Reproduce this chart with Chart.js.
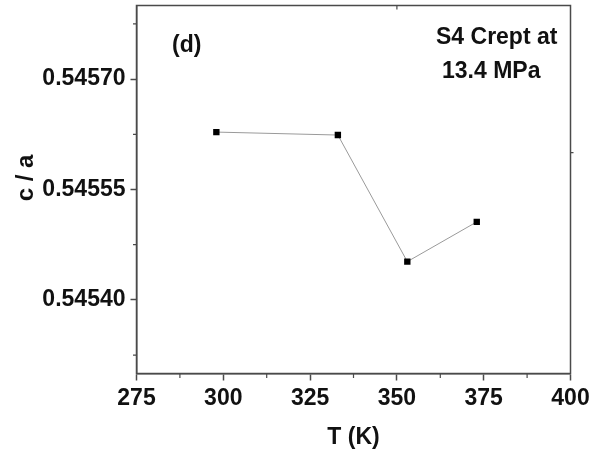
<!DOCTYPE html>
<html>
<head>
<meta charset="utf-8">
<script src="https://cdn.jsdelivr.net/npm/chart.js@4.4.1/dist/chart.umd.min.js"></script>
<style>
  html, body { margin: 0; padding: 0; background: #fff; }
  #wrap { width: 590px; height: 454px; }
</style>
</head>
<body>
<div id="wrap"><canvas id="c" width="590" height="454"></canvas></div>
<script>
// Lattice ratio c/a versus temperature for sample S4 (crept at 13.4 MPa)
const temperatures = [298, 333, 353, 373];
const caRatio = [0.545628, 0.545624, 0.545452, 0.545506];

const xMajorTicks = [275, 300, 325, 350, 375, 400];
const xMinorTicks = [287.5, 312.5, 337.5, 362.5, 387.5];
const yMajorTicks = [0.54540, 0.54555, 0.54570];
const yMinorTicks = [0.545325, 0.545475, 0.545625, 0.545775];

const FONT = '"Liberation Sans", Arial, sans-serif';
const AXIS_COLOR = '#4a4a4a';
const TEXT_COLOR = '#111';

const points = temperatures.map((t, i) => ({ x: t, y: caRatio[i] }));

// keep the plot frame where the layout padding puts it
function clearLabelPadding(scale) {
  scale.paddingTop = 0;
  scale.paddingBottom = 0;
  scale.paddingLeft = 0;
  scale.paddingRight = 0;
}

// Frame, minor ticks and text annotations
const decorations = {
  id: 'decorations',
  afterDraw(chart) {
    const ctx = chart.ctx;
    const a = chart.chartArea;
    const xs = chart.scales.x, ys = chart.scales.y;
    ctx.save();
    ctx.strokeStyle = AXIS_COLOR;
    ctx.lineWidth = 1.5;
    ctx.strokeRect(a.left, a.top, a.right - a.left, a.bottom - a.top);

    ctx.lineWidth = 1.2;
    ctx.beginPath();
    xMinorTicks.forEach(v => {
      const px = xs.getPixelForValue(v);
      ctx.moveTo(px, a.bottom);
      ctx.lineTo(px, a.bottom + 4.5);
    });
    yMinorTicks.forEach(v => {
      const py = ys.getPixelForValue(v);
      ctx.moveTo(a.left, py);
      ctx.lineTo(a.left - 3.5, py);
    });
    // single marks on the top and right frame
    const tx = xs.getPixelForValue(350);
    ctx.moveTo(tx, a.top);
    ctx.lineTo(tx, a.top + 4);
    const ry = ys.getPixelForValue(0.54560);
    ctx.moveTo(a.right, ry);
    ctx.lineTo(a.right + 3, ry);
    ctx.stroke();

    ctx.fillStyle = TEXT_COLOR;
    ctx.font = 'bold 23px ' + FONT;
    ctx.textBaseline = 'alphabetic';
    ctx.textAlign = 'left';
    ctx.fillText('(d)', 172, 52);
    ctx.fillText('S4 Crept at', 436, 44);
    ctx.fillText('13.4 MPa', 442, 78);

    ctx.textAlign = 'center';
    ctx.fillText('T (K)', 353.5, 444);

    ctx.translate(32.5, 178);
    ctx.rotate(-Math.PI / 2);
    ctx.font = 'bold 24px ' + FONT;
    ctx.fillText('c / a', 0, 0);
    ctx.restore();
  }
};

new Chart(document.getElementById('c'), {
  type: 'line',
  data: {
    datasets: [{
      data: points,
      borderColor: '#9a9a9a',
      borderWidth: 1,
      pointStyle: 'rect',
      pointRadius: 4.5,
      pointBackgroundColor: '#000',
      pointBorderColor: '#000',
      pointBorderWidth: 0,
      tension: 0
    }]
  },
  options: {
    responsive: false,
    animation: false,
    events: [],
    layout: { padding: { top: 5.5, right: 19.5, left: 0, bottom: 0 } },
    plugins: { legend: { display: false }, tooltip: { enabled: false } },
    scales: {
      x: {
        type: 'linear',
        min: 275,
        max: 400,
        afterBuildTicks(scale) { scale.ticks = xMajorTicks.map(v => ({ value: v })); },
        afterFit(scale) { scale.height = 80.5; clearLabelPadding(scale); },
        grid: { drawOnChartArea: false, drawTicks: true, tickLength: 7, tickColor: AXIS_COLOR, tickWidth: 1.5 },
        border: { display: true, color: AXIS_COLOR, width: 1.5 },
        ticks: {
          color: TEXT_COLOR,
          padding: 4,
          maxRotation: 0,
          font: { family: FONT, size: 23, weight: 'bold' },
          callback: v => String(v)
        }
      },
      y: {
        type: 'linear',
        min: 0.54530,
        max: 0.54580,
        afterBuildTicks(scale) { scale.ticks = yMajorTicks.map(v => ({ value: v })); },
        afterFit(scale) { scale.width = 136.5; clearLabelPadding(scale); },
        grid: { drawOnChartArea: false, drawTicks: true, tickLength: 6, tickColor: AXIS_COLOR, tickWidth: 1.5 },
        border: { display: true, color: AXIS_COLOR, width: 1.5 },
        ticks: {
          color: TEXT_COLOR,
          padding: 5,
          font: { family: FONT, size: 23, weight: 'bold' },
          callback: v => Number(v).toFixed(5)
        }
      }
    }
  },
  plugins: [decorations]
});
</script>
</body>
</html>
